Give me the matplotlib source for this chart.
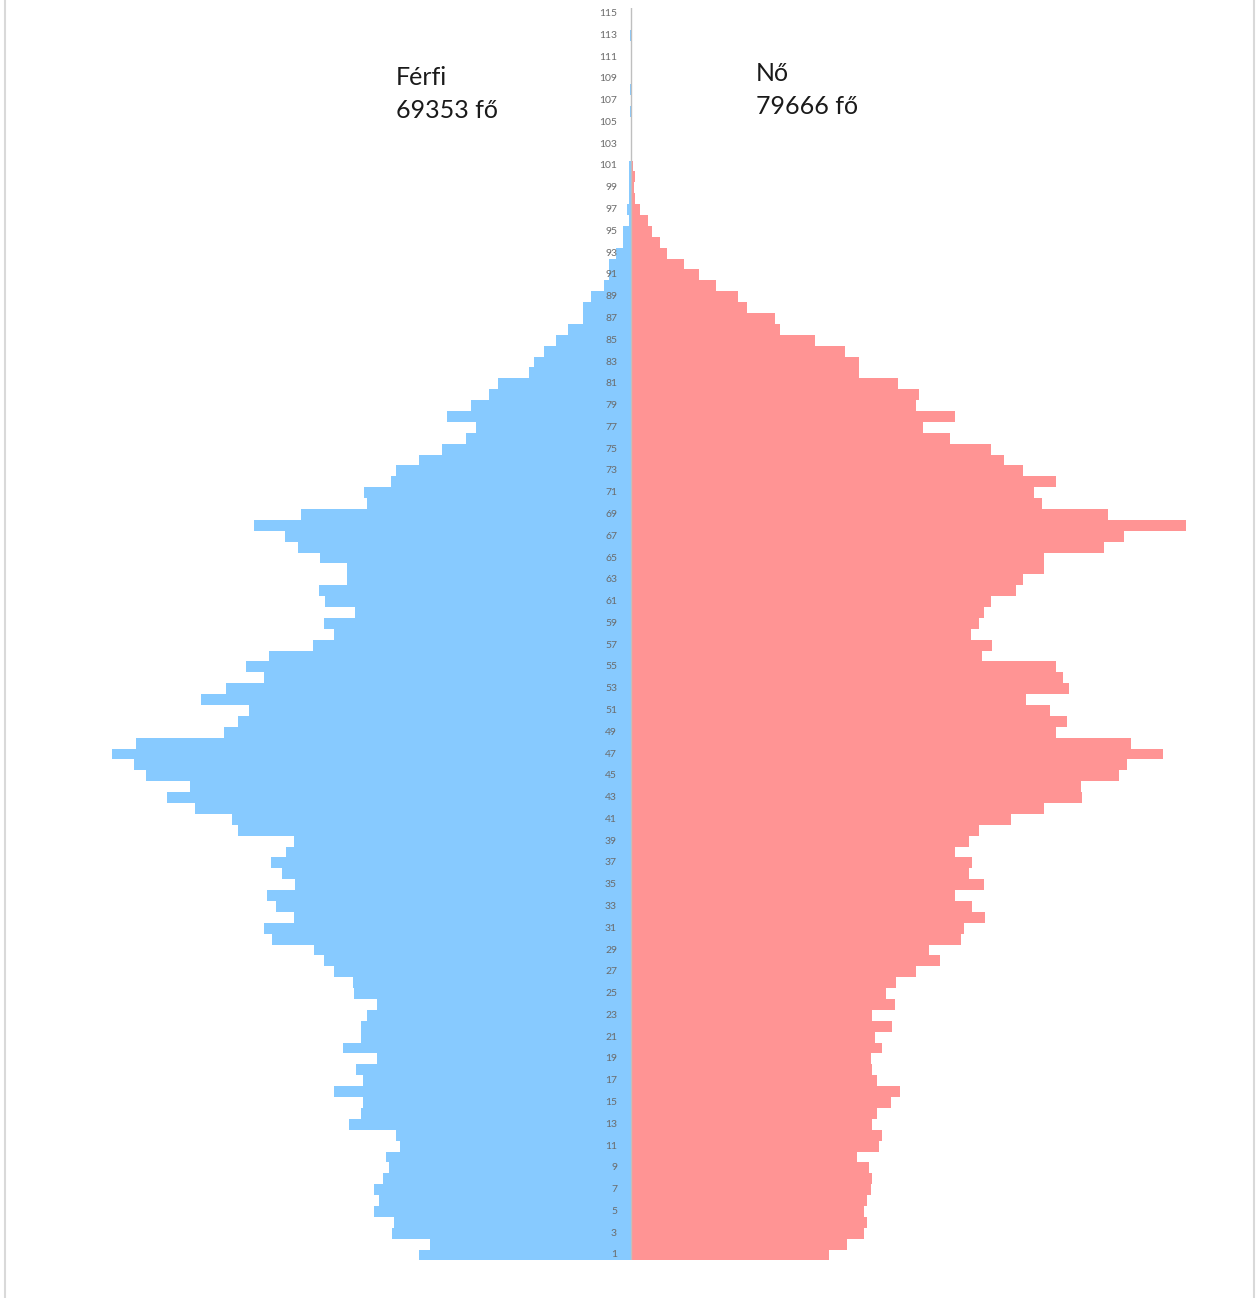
import matplotlib.pyplot as plt
from matplotlib.lines import Line2D
import numpy as np

# korfa adatok (eletkor 1..115), fo
ages = list(range(1, 116))

ferfi = [577, 546, 649, 645, 698, 685, 698, 675, 658, 666,
         627, 639, 767, 734, 729, 808, 729, 748, 691, 784,
         734, 734, 717, 691, 753, 756, 808, 835, 862, 976,
         998, 917, 966, 989, 913, 949, 979, 938, 917, 1070,
         1084, 1185, 1261, 1199, 1319, 1352, 1411, 1346, 1107, 1070,
         1039, 1170, 1102, 998, 1047, 984, 866, 808, 835, 750,
         832, 849, 772, 772, 845, 907, 940, 1025, 898, 718,
         726, 654, 639, 577, 513, 449, 422, 500, 435, 386,
         362, 277, 264, 237, 204, 171, 131, 131, 109, 73,
         59, 59, 41, 21, 21, 5, 10, 5, 5, 5,
         5, 0, 0, 0, 0, 3, 0, 3, 0, 0,
         0, 0, 4, 0, 0]

no = [539, 588, 634, 643, 634, 643, 652, 656, 647, 615,
      674, 683, 656, 669, 706, 733, 669, 656, 652, 682,
      665, 710, 656, 718, 693, 720, 774, 840, 811, 897,
      907, 964, 928, 882, 960, 919, 928, 882, 919, 946,
      1033, 1123, 1228, 1224, 1327, 1349, 1446, 1360, 1156, 1186,
      1141, 1074, 1191, 1174, 1155, 956, 982, 924, 946, 960,
      978, 1047, 1065, 1123, 1123, 1287, 1342, 1509, 1297, 1119,
      1096, 1155, 1065, 1015, 978, 869, 793, 882, 775, 782,
      727, 620, 620, 582, 500, 405, 393, 316, 292, 230,
      184, 144, 98, 79, 57, 47, 25, 11, 8, 12,
      5, 0, 0, 0, 0, 0, 0, 0, 0, 0,
      0, 0, 0, 0, 0]

tick_ages = list(range(1, 116, 2))

ferfi_cimke = "Férfi\n69353 fő"
no_cimke = "Nő\n79666 fő"

kek = "#87CAFF"
rozsa = "#FF9494"

W, H = 1256, 1298
fig = plt.figure(figsize=(W / 100, H / 100), dpi=100)

# tengely: kozepvonal x=631 px, 1 px ~ 2.72 fo
px_per = 2.72
half = 600
ax = fig.add_axes([(631 - half) / W, (H - 1260.4) / H, 2 * half / W, (1260.4 - 8.1) / H])
ax.barh(ages, [-v for v in ferfi], height=1.0, color=kek, linewidth=0)
ax.barh(ages, no, height=1.0, color=rozsa, linewidth=0)
ax.set_xlim(-half * px_per, half * px_per)
ax.set_ylim(0.5, 115.5)
ax.axvline(0, color="#BFBFBF", lw=1, zorder=3)
ax.axis("off")

for a in tick_ages:
    ax.annotate(str(a), xy=(0, a), xytext=(-14, 0), textcoords="offset pixels",
                ha="right", va="center", fontsize=7.5, color="#6b6b6b",
                family="Lato", zorder=4)

fig.text(396 / W, 1 - 66 / H, ferfi_cimke, ha="left", va="top", fontsize=18,
         family="Lato", color="#1a1a1a", linespacing=1.5)
fig.text(756 / W, 1 - 62 / H, no_cimke, ha="left", va="top", fontsize=18,
         family="Lato", color="#1a1a1a", linespacing=1.5)

# keret
fig.add_artist(Line2D([5 / W, 5 / W], [0, 1], color="#D9D9D9", lw=1.5))
fig.add_artist(Line2D([1254 / W, 1254 / W], [0, 1], color="#D9D9D9", lw=1.5))

fig.savefig("out.png", dpi=100, facecolor="white")
